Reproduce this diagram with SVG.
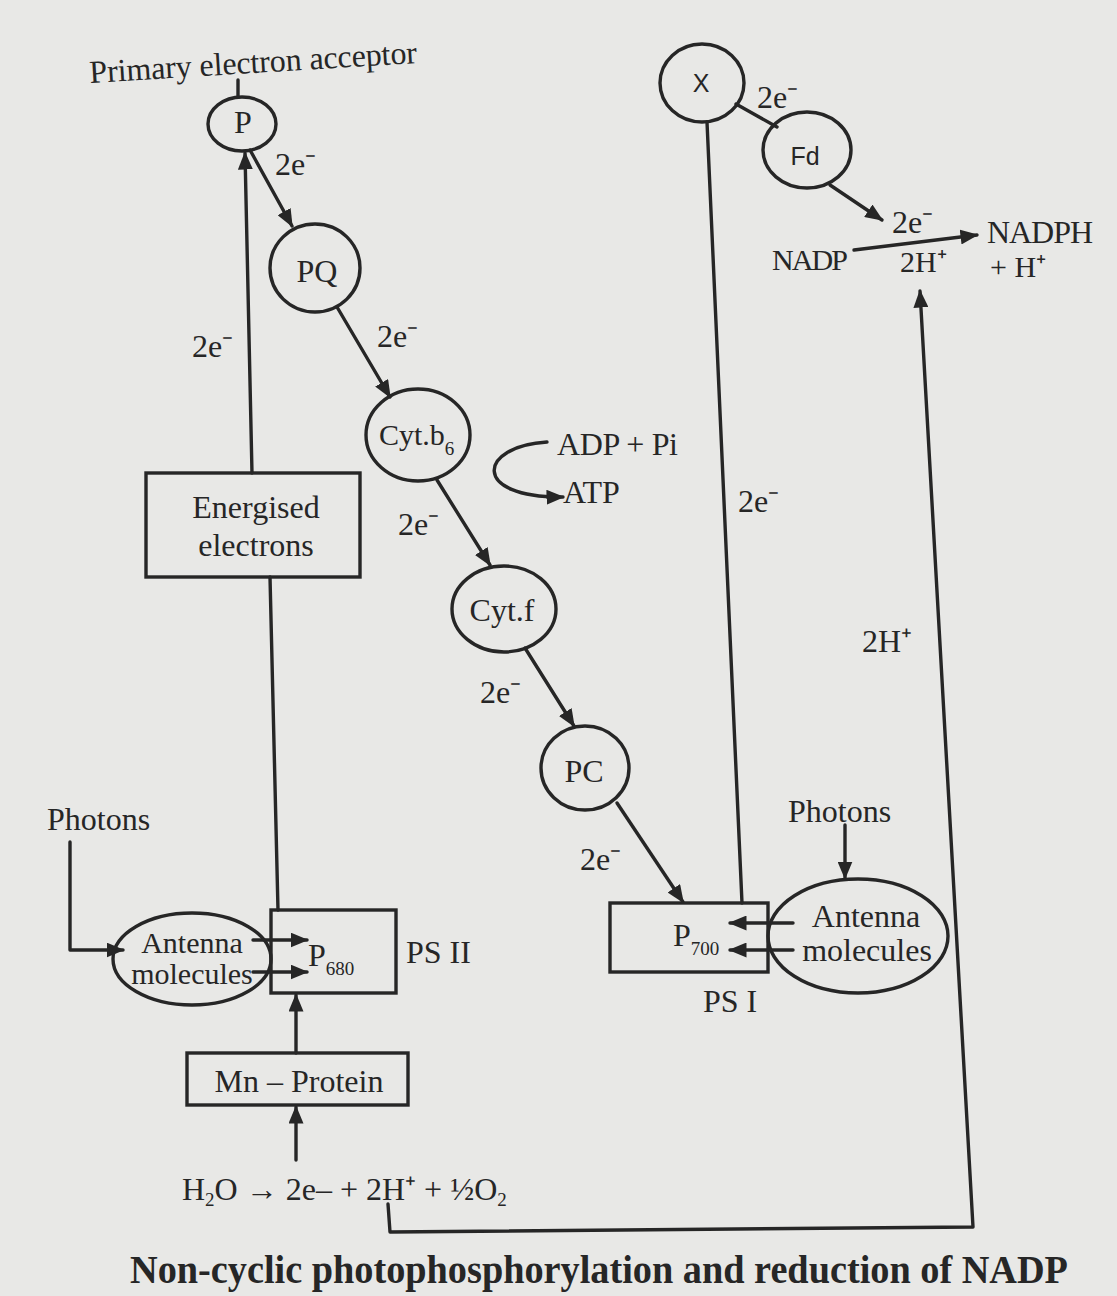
<svg xmlns="http://www.w3.org/2000/svg" width="1117" height="1296" viewBox="0 0 1117 1296">
<defs>
<marker id="ah" viewBox="0 0 12 10" refX="11" refY="5" markerWidth="18" markerHeight="15" markerUnits="userSpaceOnUse" orient="auto">
<path d="M0,0 L12,5 L0,10 z" fill="#262626"/>
</marker>
</defs>
<style>
.ln{fill:none;stroke:#262626;stroke-width:3.4;stroke-linecap:round;stroke-linejoin:round}
.ar{marker-end:url(#ah)}
.sh{fill:none;stroke:#262626;stroke-width:3.4}
text{font-family:"Liberation Serif","Times New Roman",serif;fill:#262626;font-size:32px}
.m{text-anchor:middle}
.sm{font-size:30px}
.sans{font-family:"Liberation Sans",Arial,sans-serif;font-size:25px}
.sub{font-size:19px}
.cap{font-weight:bold;font-size:40px}
</style>
<rect x="0" y="0" width="1117" height="1296" fill="#e8e8e6"/>

<g id="connectors">
<path class="ln" d="M238,97 L238,80"/>
<path class="ln ar" d="M252,473 L245,153"/>
<path class="ln ar" d="M250,150 L292,226"/>
<path class="ln ar" d="M337,307 L390,397"/>
<path class="ln ar" d="M437,480 L490,565"/>
<path class="ln ar" d="M525,648 L574,726"/>
<path class="ln ar" d="M617,803 L683,902"/>
<path class="ln" d="M742,903 L707,122"/>
<path class="ln" d="M736,104 L777,127"/>
<path class="ln ar" d="M830,185 L882,220"/>
<path class="ln ar" d="M854,250 L977,235"/>
<path class="ln ar" d="M388,1204 L390,1232 L973,1227 L920,291"/>
<path class="ln ar" d="M70,842 L70,950 L123,950"/>
<path class="ln ar" d="M253,940 L307,940"/>
<path class="ln ar" d="M253,972 L307,972"/>
<path class="ln" d="M270,577 L278,910"/>
<path class="ln ar" d="M296,1053 L296,995"/>
<path class="ln ar" d="M296,1160 L296,1107"/>
<path class="ln ar" d="M845,825 L845,878"/>
<path class="ln ar" d="M793,923 L730,923"/>
<path class="ln ar" d="M793,950 L730,950"/>
<path class="ln ar" d="M547,442 C478,446 470,498 563,497"/>
</g>

<g id="primary-acceptor">
<text x="90" y="83" transform="rotate(-3.5 90 83)" textLength="328">Primary electron acceptor</text>
</g>
<g id="node-P">
<ellipse class="sh" cx="242" cy="124" rx="34" ry="27"/>
<text class="m" x="243" y="133" font-size="23">P</text>
</g>
<g id="node-PQ">
<ellipse class="sh" cx="315" cy="268" rx="45" ry="44"/>
<text class="m" x="317" y="282">PQ</text>
</g>
<g id="node-cytb6">
<ellipse class="sh" cx="418" cy="435" rx="52" ry="46"/>
<text class="sm" x="379" y="445">Cyt.b<tspan class="sub" dy="10">6</tspan></text>
</g>
<g id="node-cytf">
<ellipse class="sh" cx="504" cy="609" rx="52" ry="43"/>
<text class="m" x="502" y="621">Cyt.f</text>
</g>
<g id="node-PC">
<ellipse class="sh" cx="585" cy="768" rx="44" ry="42"/>
<text class="m" x="584" y="782">PC</text>
</g>
<g id="node-X">
<ellipse class="sh" cx="702" cy="83" rx="42" ry="39"/>
<text class="m sans" x="701" y="92">X</text>
</g>
<g id="node-Fd">
<ellipse class="sh" cx="807" cy="150" rx="44" ry="38"/>
<text class="m sans" x="805" y="165">Fd</text>
</g>
<g id="node-energised">
<rect class="sh" x="146" y="473" width="214" height="104"/>
<text class="m" x="256" y="518" font-size="34">Energised</text>
<text class="m" x="256" y="556" font-size="34">electrons</text>
</g>
<g id="node-antenna-II">
<ellipse class="sh" cx="192" cy="959" rx="79" ry="46"/>
<text class="m sm" x="192" y="953">Antenna</text>
<text class="m sm" x="192" y="984">molecules</text>
</g>
<g id="node-PSII">
<rect class="sh" x="271" y="910" width="125" height="83"/>
<text x="308" y="966" font-size="36">P<tspan class="sub" dy="9">680</tspan></text>
<text x="406" y="963">PS II</text>
</g>
<g id="node-mn">
<rect class="sh" x="187" y="1053" width="221" height="52"/>
<text class="m" x="299" y="1092" font-size="35">Mn – Protein</text>
</g>
<g id="node-PSI">
<rect class="sh" x="610" y="903" width="158" height="69"/>
<text x="673" y="946">P<tspan class="sub" dy="9">700</tspan></text>
<text x="703" y="1012">PS I</text>
</g>
<g id="node-antenna-I">
<ellipse class="sh" cx="858" cy="936" rx="90" ry="57"/>
<text class="m" x="866" y="927" font-size="31">Antenna</text>
<text class="m" x="867" y="961" font-size="31">molecules</text>
</g>
<g id="node-nadp">
<text class="sm" x="772" y="270" textLength="76">NADP</text>
<text x="987" y="243" textLength="106">NADPH</text>
<text class="sm" x="990" y="277">+ H⁺</text>
</g>
<g id="node-water">
<text x="182" y="1200" font-size="35">H<tspan class="sub" dy="6">2</tspan><tspan dy="-6">O → 2e– + 2H⁺ + ½O</tspan><tspan class="sub" dy="6">2</tspan></text>
</g>
<g id="labels">
<text x="275" y="175">2e⁻</text>
<text x="192" y="357">2e⁻</text>
<text x="377" y="347">2e⁻</text>
<text x="398" y="535">2e⁻</text>
<text x="480" y="703">2e⁻</text>
<text x="580" y="870">2e⁻</text>
<text x="738" y="512">2e⁻</text>
<text x="757" y="108">2e⁻</text>
<text x="892" y="233">2e⁻</text>
<text class="sm" x="900" y="272">2H⁺</text>
<text x="862" y="652" font-size="33">2H⁺</text>
<text x="557" y="455" textLength="121">ADP + Pi</text>
<text x="563" y="503" font-size="34">ATP</text>
<text x="47" y="830" font-size="34">Photons</text>
<text x="788" y="822" font-size="35">Photons</text>
</g>
<g id="caption">
<text class="cap" x="130" y="1283" textLength="938" lengthAdjust="spacingAndGlyphs">Non-cyclic photophosphorylation and reduction of NADP</text>
</g>
</svg>
